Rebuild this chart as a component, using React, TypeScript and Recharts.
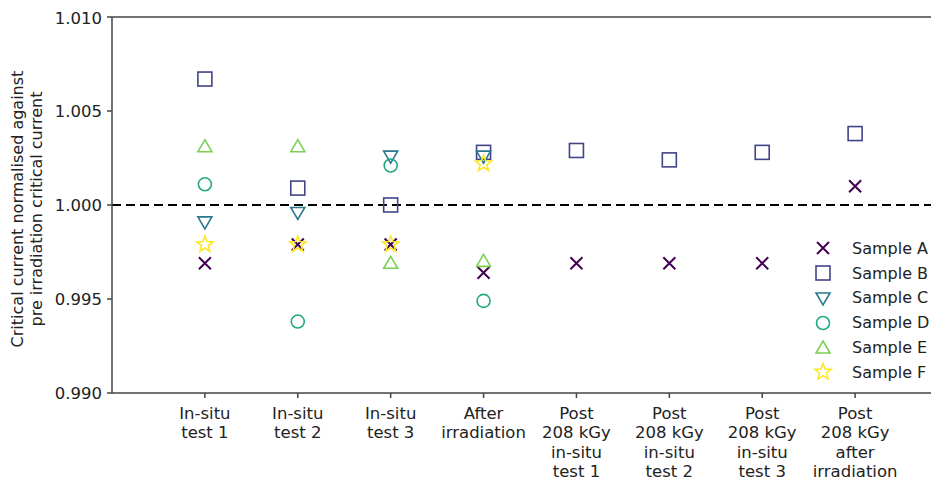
import {
  ScatterChart,
  Scatter,
  XAxis,
  YAxis,
  ReferenceLine,
  Legend,
} from "recharts";

// x categories (positions 1..8)
const categories = [
  "In-situ\ntest 1",
  "In-situ\ntest 2",
  "In-situ\ntest 3",
  "After\nirradiation",
  "Post\n208 kGy\nin-situ\ntest 1",
  "Post\n208 kGy\nin-situ\ntest 2",
  "Post\n208 kGy\nin-situ\ntest 3",
  "Post\n208 kGy\nafter\nirradiation",
];

const sampleA = [0.9969, 0.9979, 0.9979, 0.9964, 0.9969, 0.9969, 0.9969, 1.001];
const sampleB = [1.0067, 1.0009, 1.0, 1.0028, 1.0029, 1.0024, 1.0028, 1.0038];
const sampleC = [0.9991, 0.9996, 1.0026, 1.0026, null, null, null, null];
const sampleD = [1.0011, 0.9938, 1.0021, 0.9949, null, null, null, null];
const sampleE = [1.0031, 1.0031, 0.9969, 0.997, null, null, null, null];
const sampleF = [0.9979, 0.9979, 0.9979, 1.0022, null, null, null, null];

const yTicks = [0.99, 0.995, 1.0, 1.005, 1.01];

const series = [
  { name: "Sample A", values: sampleA, color: "#440154", kind: "x" },
  { name: "Sample B", values: sampleB, color: "#414487", kind: "square" },
  { name: "Sample C", values: sampleC, color: "#2a788e", kind: "triDown" },
  { name: "Sample D", values: sampleD, color: "#22a884", kind: "circle" },
  { name: "Sample E", values: sampleE, color: "#7ad151", kind: "triUp" },
  { name: "Sample F", values: sampleF, color: "#fde725", kind: "star" },
];

const FONT = "'DejaVu Sans', sans-serif";

const toPoints = (vals: (number | null)[]) =>
  vals
    .map((v, i) => (v == null ? null : { x: i + 1, y: v }))
    .filter(Boolean) as { x: number; y: number }[];

const starPoints = (cx: number, cy: number, ro: number, ri: number) => {
  const pts = [];
  for (let i = 0; i < 10; i++) {
    const r = i % 2 === 0 ? ro : ri;
    const a = -Math.PI / 2 + (i * Math.PI) / 5;
    pts.push(`${cx + r * Math.cos(a)},${cy + r * Math.sin(a)}`);
  }
  return pts.join(" ");
};

const Marker = ({ kind, cx, cy, color }: any) => {
  if (cx == null || cy == null) return null;
  const common = { fill: "none", stroke: color, strokeWidth: 1.6 };
  switch (kind) {
    case "x":
      return (
        <path
          d={`M${cx - 6},${cy - 6}L${cx + 6},${cy + 6}M${cx - 6},${cy + 6}L${cx + 6},${cy - 6}`}
          stroke={color}
          strokeWidth={2}
          fill="none"
        />
      );
    case "square":
      return <rect x={cx - 7} y={cy - 7} width={14} height={14} {...common} />;
    case "triDown":
      return (
        <polygon
          points={`${cx - 7},${cy - 5} ${cx + 7},${cy - 5} ${cx},${cy + 7}`}
          {...common}
        />
      );
    case "triUp":
      return (
        <polygon
          points={`${cx},${cy - 7} ${cx + 7},${cy + 5} ${cx - 7},${cy + 5}`}
          {...common}
        />
      );
    case "circle":
      return <circle cx={cx} cy={cy} r={6.5} {...common} />;
    case "star":
      return <polygon points={starPoints(cx, cy, 8.5, 3.6)} {...common} />;
    default:
      return null;
  }
};

const XTick = ({ x, y, payload }: any) => {
  const label = categories[payload.value - 1];
  if (!label) return null;
  return (
    <text
      x={x}
      y={y}
      textAnchor="middle"
      fontSize={16.5}
      fill="#222"
      fontFamily={FONT}
    >
      {label.split("\n").map((line, i) => (
        <tspan key={i} x={x} dy={i === 0 ? 19 : 19.3}>
          {line}
        </tspan>
      ))}
    </text>
  );
};

const YLabel = () => (
  <g fontFamily={FONT} fontSize={16} fill="#222" textAnchor="middle">
    <text transform="translate(15,201) rotate(-90)">
      Critical current normalised against
    </text>
    <text transform="translate(34,201) rotate(-90)">
      pre irradiation critical current
    </text>
  </g>
);

const LegendBox = () => (
  <div style={{ fontFamily: FONT, fontSize: 16, color: "#222" }}>
    {series.map((s) => (
      <div
        key={s.name}
        style={{ display: "flex", alignItems: "center", height: 24.8, whiteSpace: "nowrap" }}
      >
        <svg width={24} height={22} style={{ display: "block", flexShrink: 0 }}>
          <Marker kind={s.kind} cx={12} cy={11} color={s.color} />
        </svg>
        <span style={{ marginLeft: 17 }}>{s.name}</span>
      </div>
    ))}
  </div>
);

const App = () => {
  return (
    <div style={{ width: 931, overflow: "hidden", fontFamily: FONT }}>
      <ScatterChart
        width={960}
        height={472}
        margin={{ top: 9, right: 20, left: 0, bottom: 0 }}
      >
        <XAxis
          type="number"
          dataKey="x"
          domain={[0, 9]}
          ticks={[1, 2, 3, 4, 5, 6, 7, 8]}
          tick={<XTick />}
          tickSize={5}
          height={87}
          stroke="#444"
          strokeWidth={1.5}
          allowDataOverflow
        />
        <YAxis
          type="number"
          dataKey="y"
          domain={[0.99, 1.01]}
          ticks={yTicks}
          tickFormatter={(v: number) => v.toFixed(3)}
          tick={{ fontSize: 16.5, fill: "#222", fontFamily: FONT }}
          tickSize={5}
          tickMargin={5}
          width={104}
          stroke="#444"
          strokeWidth={1.5}
          allowDataOverflow
          label={{ content: <YLabel /> }}
        />
        <ReferenceLine y={1.01} stroke="#444" strokeWidth={1.5} />
        <ReferenceLine x={9} stroke="#444" strokeWidth={1.5} />
        <ReferenceLine
          y={1.0}
          stroke="#000"
          strokeWidth={2}
          strokeDasharray="9 5"
        />
        {series.map((s) => (
          <Scatter
            key={s.name}
            name={s.name}
            data={toPoints(s.values)}
            isAnimationActive={false}
            shape={(p: any) => (
              <Marker kind={s.kind} cx={p.cx} cy={p.cy} color={s.color} />
            )}
          />
        ))}
        <Legend
          layout="vertical"
          align="center"
          verticalAlign="middle"
          wrapperStyle={{ left: 803, top: 228, width: 140 }}
          content={<LegendBox />}
        />
      </ScatterChart>
    </div>
  );
};

export default App;
